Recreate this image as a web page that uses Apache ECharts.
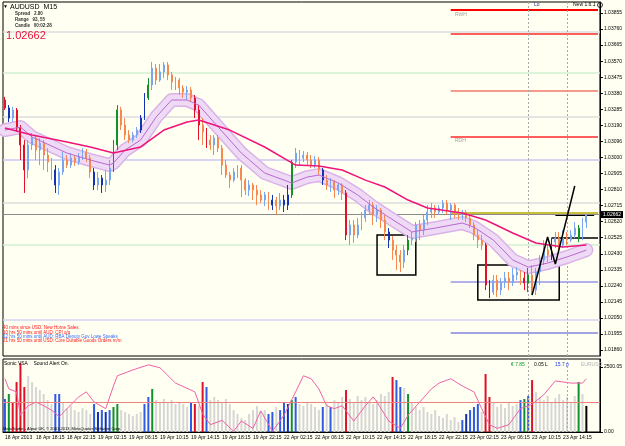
<!DOCTYPE html>
<html>
<head>
<meta charset="utf-8">
<script src="https://cdn.jsdelivr.net/npm/echarts@6/dist/echarts.min.js"></script>
<style>
html,body{margin:0;padding:0;background:#fffff2;}
#chart{width:625px;height:446px;}
</style>
</head>
<body>
<div id="chart"></div>
<script>
// bottom time labels, one every 8 bars (30 min bars)
var xLabels = ['18 Apr 2013','18 Apr 18:15','18 Apr 22:15','19 Apr 02:15','19 Apr 06:15','19 Apr 10:15',
  '19 Apr 14:15','19 Apr 18:15','19 Apr 22:15','22 Apr 02:15','22 Apr 06:15','22 Apr 10:15','22 Apr 14:15',
  '22 Apr 18:15','22 Apr 22:15','23 Apr 02:15','23 Apr 06:15','23 Apr 10:15','23 Apr 14:15'];
var barSlots = 154;

// AUDUSD candles
var opens = [1.03340,1.03293,1.03233,1.03281,1.03174,1.03074,1.02926,1.03074,1.03115,1.03044,
  1.03085,1.03014,1.02973,1.02926,1.02837,1.02914,1.02985,1.02955,1.02997,1.02973,
  1.03003,1.03032,1.02997,1.02914,1.02837,1.02878,1.02837,1.02866,1.02937,1.03074,
  1.03281,1.03192,1.03133,1.03103,1.03133,1.03162,1.03233,1.03352,1.03429,1.03529,
  1.03458,1.03506,1.03547,1.03488,1.03447,1.03458,1.03411,1.03387,1.03399,1.03352,
  1.03281,1.03192,1.03151,1.03103,1.03074,1.03115,1.03056,1.02955,1.02896,1.02866,
  1.02914,1.02937,1.02866,1.02807,1.02837,1.02807,1.02778,1.02748,1.02778,1.02718,
  1.02748,1.02712,1.02748,1.02718,1.02778,1.02973,1.03026,1.02997,1.03014,1.02985,
  1.02955,1.02985,1.02926,1.02866,1.02837,1.02855,1.02807,1.02837,1.02790,1.02541,
  1.02600,1.02541,1.02600,1.02642,1.02689,1.02718,1.02660,1.02689,1.02630,1.02559,
  1.02511,1.02452,1.02422,1.02381,1.02452,1.02511,1.02523,1.02600,1.02570,1.02630,
  1.02677,1.02701,1.02677,1.02701,1.02730,1.02689,1.02718,1.02677,1.02660,1.02677,
  1.02642,1.02600,1.02541,1.02511,1.02482,1.02245,1.02203,1.02274,1.02215,1.02263,
  1.02286,1.02263,1.02304,1.02322,1.02286,1.02257,1.02304,1.02215,1.02322,1.02393,
  1.02452,1.02422,1.02499,1.02523,1.02482,1.02523,1.02511,1.02541,1.02582,1.02523,
  1.02618];
var closes = [1.03293,1.03233,1.03281,1.03174,1.03074,1.02926,1.03074,1.03115,1.03044,1.03085,
  1.03014,1.02973,1.02926,1.02837,1.02914,1.02985,1.02955,1.02997,1.02973,1.03003,
  1.03032,1.02997,1.02914,1.02837,1.02878,1.02837,1.02866,1.02937,1.03074,1.03281,
  1.03192,1.03133,1.03103,1.03133,1.03162,1.03233,1.03352,1.03429,1.03529,1.03458,
  1.03506,1.03547,1.03488,1.03447,1.03458,1.03411,1.03387,1.03399,1.03352,1.03281,
  1.03192,1.03151,1.03103,1.03074,1.03115,1.03056,1.02955,1.02896,1.02866,1.02914,
  1.02937,1.02866,1.02807,1.02837,1.02807,1.02778,1.02748,1.02778,1.02718,1.02748,
  1.02712,1.02748,1.02718,1.02778,1.02973,1.03026,1.02997,1.03014,1.02985,1.02955,
  1.02985,1.02926,1.02866,1.02837,1.02855,1.02807,1.02837,1.02790,1.02541,1.02600,
  1.02541,1.02600,1.02642,1.02689,1.02718,1.02660,1.02689,1.02630,1.02559,1.02511,
  1.02452,1.02422,1.02381,1.02452,1.02511,1.02523,1.02600,1.02570,1.02630,1.02677,
  1.02701,1.02677,1.02701,1.02730,1.02689,1.02718,1.02677,1.02660,1.02677,1.02642,
  1.02600,1.02541,1.02511,1.02482,1.02245,1.02203,1.02274,1.02215,1.02263,1.02286,
  1.02263,1.02304,1.02322,1.02286,1.02257,1.02304,1.02215,1.02322,1.02393,1.02452,
  1.02422,1.02499,1.02523,1.02482,1.02523,1.02511,1.02541,1.02582,1.02523,1.02618,
  1.02662];
var lows = [1.03281,1.03210,1.03210,1.03151,1.02985,1.02790,1.02878,1.03044,1.02985,1.02955,
  1.02926,1.02914,1.02866,1.02790,1.02778,1.02896,1.02937,1.02937,1.02949,1.02955,
  1.02985,1.02973,1.02878,1.02807,1.02807,1.02790,1.02796,1.02837,1.02914,1.03044,
  1.03162,1.03103,1.03085,1.03091,1.03115,1.03145,1.03222,1.03340,1.03399,1.03429,
  1.03447,1.03470,1.03458,1.03399,1.03399,1.03370,1.03352,1.03340,1.03328,1.03233,
  1.03103,1.03074,1.03056,1.03044,1.03014,1.03032,1.02896,1.02878,1.02819,1.02855,
  1.02878,1.02766,1.02778,1.02772,1.02748,1.02718,1.02730,1.02712,1.02689,1.02689,
  1.02660,1.02689,1.02677,1.02689,1.02760,1.02937,1.02955,1.02973,1.02955,1.02937,
  1.02937,1.02896,1.02837,1.02807,1.02796,1.02760,1.02778,1.02748,1.02511,1.02482,
  1.02494,1.02523,1.02570,1.02618,1.02660,1.02600,1.02618,1.02582,1.02511,1.02464,
  1.02393,1.02334,1.02322,1.02346,1.02422,1.02482,1.02499,1.02511,1.02541,1.02600,
  1.02642,1.02642,1.02660,1.02671,1.02660,1.02630,1.02642,1.02630,1.02630,1.02618,
  1.02582,1.02511,1.02464,1.02452,1.02215,1.02168,1.02186,1.02174,1.02186,1.02227,
  1.02215,1.02239,1.02274,1.02245,1.02215,1.02203,1.02186,1.02186,1.02245,1.02363,
  1.02381,1.02393,1.02464,1.02452,1.02464,1.02482,1.02499,1.02523,1.02499,1.02511,
  1.02582];
var highs = [1.03358,1.03310,1.03299,1.03293,1.03192,1.03103,1.03103,1.03145,1.03133,1.03115,
  1.03103,1.03056,1.02997,1.02955,1.02937,1.03032,1.03014,1.03026,1.03014,1.03026,
  1.03056,1.03050,1.03014,1.02937,1.02914,1.02896,1.02926,1.02985,1.03103,1.03310,
  1.03299,1.03233,1.03162,1.03151,1.03180,1.03251,1.03381,1.03470,1.03565,1.03553,
  1.03553,1.03565,1.03565,1.03506,1.03476,1.03470,1.03429,1.03423,1.03417,1.03370,
  1.03310,1.03233,1.03174,1.03133,1.03133,1.03133,1.03074,1.02985,1.02914,1.02937,
  1.02955,1.02955,1.02878,1.02866,1.02849,1.02837,1.02807,1.02796,1.02796,1.02778,
  1.02766,1.02790,1.02778,1.02837,1.02985,1.03056,1.03044,1.03038,1.03032,1.03014,
  1.03008,1.03003,1.02937,1.02896,1.02878,1.02866,1.02849,1.02849,1.02807,1.02630,
  1.02630,1.02642,1.02677,1.02718,1.02748,1.02736,1.02718,1.02701,1.02660,1.02582,
  1.02535,1.02482,1.02452,1.02482,1.02541,1.02559,1.02618,1.02630,1.02660,1.02718,
  1.02730,1.02718,1.02718,1.02748,1.02748,1.02730,1.02730,1.02701,1.02689,1.02689,
  1.02660,1.02618,1.02570,1.02541,1.02494,1.02274,1.02304,1.02304,1.02286,1.02322,
  1.02322,1.02346,1.02351,1.02334,1.02322,1.02346,1.02363,1.02346,1.02422,1.02511,
  1.02482,1.02523,1.02559,1.02559,1.02570,1.02559,1.02570,1.02618,1.02600,1.02642,
  1.02665];
var lastPrice = 1.02662;

// VSA coloured candles
var candleRed = [0,3,4,5,49,50,52,88,124,134];
var candleDark = [1,13,23,25,35,36,69,72,73,82,99,125,141];
var candleGreen = [28,29,37,74,104,135,148];

// moving average and envelope (bar index, price)
var maIdx = [0,7,16,22,28,35,41,47,50,58,67,75,81,87,93,98,104,109,118,124,131,137,144,150];
var maVal = [1.03174,1.03133,1.03091,1.03062,1.03026,1.03062,1.03162,1.03210,1.03222,1.03162,
  1.03062,1.02955,1.02949,1.02926,1.02866,1.02825,1.02748,1.02701,1.02671,1.02630,
  1.02553,1.02494,1.02470,1.02482];
var bandIdx = [0,4,7,16,22,27,28,31,35,39,43,47,50,55,61,67,74,78,81,86,91,95,99,105,111,118,121,126,131,135,140,145,150];
var bandVal = [1.03162,1.03180,1.03121,1.03026,1.02985,1.02955,1.02967,1.03044,1.03103,1.03239,
  1.03340,1.03340,1.03310,1.03180,1.03026,1.02908,1.02849,1.02884,1.02896,1.02849,
  1.02778,1.02707,1.02647,1.02559,1.02582,1.02612,1.02588,1.02511,1.02393,1.02351,
  1.02375,1.02411,1.02452];

// price axis ticks
var priceTicks = [1.03855,1.03760,1.03665,1.03570,1.03475,1.03380,1.03285,1.03190,1.03096,1.03000,
  1.02905,1.02810,1.02715,1.02620,1.02525,1.02430,1.02335,1.02240,1.02145,1.02050,1.01955,1.01860];

// drawn objects
var zigIdx = [136,140,142,147];
var zigVal = [1.02186,1.02529,1.02369,1.02831];
var box1 = [96,1.02541,106,1.02304];
var box2 = [122,1.02363,143,1.02156];
var sideLevels = [1.03873,1.03731,1.03393,1.03121,1.02671,1.02263,1.01961];
var gridLevels = [1.03743,1.03500,1.03239,1.02985,1.02730,1.02482,1.02038];
var blackLevels = [1.02523,1.02657];
var markBars = [135,145];

// Sonic VSA volume
var volumes = [1190,1370,1080,1800,2480,1620,2020,1800,1620,1510,
  1370,1150,1010,1370,1370,1080,860,940,790,720,
  860,790,650,1010,720,790,720,790,900,1010,
  790,720,650,580,650,720,1010,1260,1550,1150,
  1080,1190,1080,1150,1010,1080,1010,900,1080,1010,
  940,1800,1620,1150,1260,1150,1080,1190,1010,790,
  650,500,430,650,790,940,720,790,650,720,
  900,790,1080,1010,1150,1260,1010,940,1080,1010,
  900,790,900,1010,900,1150,1080,1260,1510,1190,
  1080,1300,1150,1260,1080,1010,1150,1370,1300,1440,
  1980,1870,1620,1580,1370,1080,900,790,900,720,
  650,790,580,500,650,430,540,360,430,650,
  790,900,1010,720,2090,1260,1080,900,1010,860,
  1080,940,1010,1150,1190,1300,1870,1440,1260,1150,
  1300,1080,1220,1370,1150,1260,1080,1300,1800,1370,
  940];
var volBlue = [0,13,14,23,25,27,36,37,48,52,68,69,71,72,75,82,84,101,102,118,120,121,122,133,135];
var volDark = [24,26,73,119];
var volRed = [2,3,4,5,49,51,88,100,124,125,136];
var volGreen = [1,28,29,38,74,104,134,148];
var volBlack = [150];

// oscillator line
var oscIdx = [0,1,3,4,6,8,10,12,14,16,19,21,23,26,28,29,33,37,40,44,49,51,53,56,59,61,64,66,69,72,
  75,77,79,81,83,85,87,90,93,95,96,99,102,104,107,110,112,115,118,121,123,125,127,130,133,136,139,142,146,149,150];
var oscVal = [73,59,55,23,36,41,36,30,21,32,48,55,41,32,63,77,85,92,88,67,55,25,10,16,1,15,5,29,1,23,
  55,77,73,59,36,32,36,15,36,48,41,15,5,23,41,59,67,73,63,55,32,10,5,10,32,38,51,70,67,67,73];
var oscLevel = 41;

var newsLines = ['40 mins since USD: New Home Sales','10 hrs 50 mins until AUD: CPI q/q',
  '12 hrs 50 mins until AUD: RBA Deputy Gov Lowe Speaks','21 hrs 50 mins until USD: Core Durable Goods Orders m/m'];
var newsColors = ['#ff1a1a','#ff1a1a','#3a6cff','#ff1a1a'];

var FONT = 'Liberation Sans';
var BG = '#fffff2';

var cats = [];
for (var i = 0; i < barSlots; i++) {
    cats.push(i % 8 === 0 && xLabels[i / 8] ? xLabels[i / 8] : '');
}

function pairs(idx, val) {
    var out = [];
    for (var k = 0; k < idx.length; k++) out.push([idx[k], val[k]]);
    return out;
}

var candleData = [];
for (var i = 0; i < opens.length; i++) {
    var item = {value: [opens[i], closes[i], lows[i], highs[i]]};
    var c = null;
    if (candleRed.indexOf(i) >= 0) c = '#e4102a';
    else if (candleDark.indexOf(i) >= 0) c = '#1432b4';
    else if (candleGreen.indexOf(i) >= 0) c = '#12902a';
    if (c) item.itemStyle = {color: c, color0: c, borderColor: c, borderColor0: c};
    candleData.push(item);
}

var volData = [];
for (var i = 0; i < volumes.length; i++) {
    var vc = '#d6d6d6';
    if (volBlue.indexOf(i) >= 0) vc = '#2e5ae6';
    else if (volDark.indexOf(i) >= 0) vc = '#1030b0';
    else if (volRed.indexOf(i) >= 0) vc = '#e0102a';
    else if (volGreen.indexOf(i) >= 0) vc = '#109030';
    else if (volBlack.indexOf(i) >= 0) vc = '#000';
    volData.push({value: volumes[i], itemStyle: {color: vc}});
}

//水平线
var sideColors = ['#ff0000','#ff2a2a','#f07a6a','#ff2a2a','#b8a800','#9898e8','#8484dc'];
var sideWidths = [2,1.5,1.5,1.5,1.5,1.5,1.5];
var gridColors = ['#dddddd','#d2f0d2','#dddddd','#c8c8f4','#dddddd','#d2f0d2','#d4d4f4'];
var levelLines = [];
gridLevels.forEach(function (v, k) {
    levelLines.push({yAxis: v, lineStyle: {color: gridColors[k], width: 1.5, type: 'solid'}});
});
sideLevels.forEach(function (v, k) {
    levelLines.push([{coord: [115, v], lineStyle: {color: sideColors[k], width: sideWidths[k], type: 'solid'}}, {coord: [153, v]}]);
});
levelLines.push({yAxis: lastPrice, lineStyle: {color: '#8a8a8a', width: 1, type: 'solid'},
    label: {show: true, position: 'end', formatter: lastPrice.toFixed(5), color: '#fff', backgroundColor: '#000',
        fontSize: 5, fontFamily: FONT, padding: [1, 2], distance: 1}});
levelLines.push([{coord: [141, blackLevels[0]], lineStyle: {color: '#000', width: 1.5, type: 'solid'}}, {coord: [153, blackLevels[0]]}]);
levelLines.push([{coord: [142, blackLevels[1]], lineStyle: {color: '#000', width: 1, type: 'solid'}}, {coord: [152, blackLevels[1]]}]);
markBars.forEach(function (b) {
    levelLines.push({xAxis: b, lineStyle: {color: '#a8a8a8', width: 1, type: [2, 2]}});
});

var texts = [
    {x: 3, y: 7, t: '\u25BC', f: '5px ' + FONT, c: '#000'},
    {x: 10, y: 7, t: 'AUDUSD  M15', f: '7px ' + FONT, c: '#000'},
    {x: 15, y: 14, t: 'Spread   2.80', f: 'bold 4.5px ' + FONT, c: '#333'},
    {x: 15, y: 20, t: 'Range   93, 55', f: 'bold 4.5px ' + FONT, c: '#333'},
    {x: 15, y: 26, t: 'Candle   00:02:28', f: 'bold 4.5px ' + FONT, c: '#333'},
    {x: 6, y: 36, t: '1.02662', f: '11px ' + FONT, c: '#e8103c'},
    {x: 455, y: 15, t: 'RWH', f: '5px ' + FONT, c: '#a0a0a0'},
    {x: 455, y: 141, t: 'RDH', f: '5px ' + FONT, c: '#a0a0a0'},
    {x: 534, y: 5, t: 'Lo', f: '5px ' + FONT, c: '#303088'},
    {x: 573, y: 5, t: 'New 1.6.1', f: '5px ' + FONT, c: '#000'},
    {x: 4, y: 364, t: 'Sonic VSA    Sound Alert On.', f: '5px ' + FONT, c: '#000'},
    {x: 511, y: 365, t: '\u20AC 7.85', f: '5px ' + FONT, c: '#10a030'},
    {x: 534, y: 365, t: '0.05 L', f: '5px ' + FONT, c: '#000'},
    {x: 555, y: 365, t: '15.7 p', f: '5px ' + FONT, c: '#2040e0'},
    {x: 581, y: 365, t: 'EURUSD', f: '5px ' + FONT, c: '#b4b4b4'},
    {x: 3, y: 429, t: 'MetaTrader - Alpari UK, \u00A9 2001-2013, MetaQuotes Software Corp.', f: '4px ' + FONT, c: '#000'}
];
newsLines.forEach(function (s, k) {
    texts.push({x: 3, y: 328 + k * 4.4, t: s, f: '4.5px ' + FONT, c: newsColors[k]});
});
var graphics = texts.map(function (o) {
    return {type: 'text', x: o.x, y: o.y, z: 100,
        style: {text: o.t, fill: o.c, font: o.f, verticalAlign: 'middle', align: 'left'}};
});
graphics.push({type: 'circle', shape: {cx: 600, cy: 5, r: 2.5}, style: {fill: 'none', stroke: '#000', lineWidth: 0.8}, z: 100});

var chart = echarts.init(document.getElementById('chart'), null, {renderer: 'canvas'});
chart.setOption({
    animation: false,
    backgroundColor: BG,
    textStyle: {fontFamily: FONT},
    graphic: graphics,
    grid: [
        {left: 3, right: 22, top: 2, height: 354, show: true, borderColor: '#000', borderWidth: 1, backgroundColor: BG},
        {left: 3, right: 22, top: 359, height: 73, show: true, borderColor: '#000', borderWidth: 1, backgroundColor: BG}
    ],
    xAxis: [
        {type: 'category', gridIndex: 0, data: cats, boundaryGap: true,
            axisLine: {show: false}, axisTick: {show: false}, axisLabel: {show: false}, splitLine: {show: false}},
        {type: 'category', gridIndex: 1, data: cats, boundaryGap: true,
            axisLine: {lineStyle: {color: '#000'}},
            axisTick: {alignWithLabel: true, length: 3, lineStyle: {color: '#000'},
                interval: function (i, v) { return v !== ''; }},
            axisLabel: {interval: function (i, v) { return v !== ''; }, align: 'left', fontSize: 5, color: '#000', margin: 3}}
    ],
    yAxis: [
        {type: 'value', gridIndex: 0, position: 'right', min: 1.01825, max: 1.03920,
            axisLine: {show: true, lineStyle: {color: '#000'}},
            axisTick: {show: true, length: 3, customValues: priceTicks, lineStyle: {color: '#000'}},
            axisLabel: {customValues: priceTicks, formatter: function (v) { return v.toFixed(5); },
                fontSize: 5, color: '#000', margin: 4},
            splitLine: {show: false}},
        {type: 'value', gridIndex: 1, position: 'right', min: 0, max: 2630,
            axisLine: {show: true, lineStyle: {color: '#000'}},
            axisTick: {show: true, length: 3, customValues: [2340, 0], lineStyle: {color: '#000'}},
            axisLabel: {customValues: [2340, 0], formatter: function (v) { return v ? '2500.05' : '0.00'; },
                fontSize: 5, color: '#000', margin: 4},
            splitLine: {show: false}},
        {type: 'value', gridIndex: 1, min: 0, max: 100, show: false}
    ],
    series: [
        {type: 'line', name: 'bandEdge', data: pairs(bandIdx, bandVal), showSymbol: false, symbol: 'none', z: 1,
            lineStyle: {color: '#dab2e8', width: 14, join: 'round', cap: 'round'}},
        {type: 'line', name: 'bandFill', data: pairs(bandIdx, bandVal), showSymbol: false, symbol: 'none', z: 1,
            lineStyle: {color: '#efdaf5', width: 11, join: 'round', cap: 'round'}},
        {type: 'candlestick', name: 'AUDUSD', data: candleData, barWidth: 1.4, z: 2,
            itemStyle: {color: '#79a6f2', color0: '#f6894f', borderColor: '#79a6f2', borderColor0: '#f6894f', borderWidth: 1},
            markArea: {silent: true, itemStyle: {color: 'rgba(0,0,0,0)', borderColor: '#000', borderWidth: 1.5},
                data: [
                    [{coord: [box1[0], box1[1]]}, {coord: [box1[2], box1[3]]}],
                    [{coord: [box2[0], box2[1]]}, {coord: [box2[2], box2[3]]}]
                ]}},
        {type: 'line', name: 'bandMid', data: pairs(bandIdx, bandVal), showSymbol: false, symbol: 'none', z: 3,
            lineStyle: {color: '#b868d0', width: 1}},
        {type: 'line', name: 'MA', data: pairs(maIdx, maVal), showSymbol: false, symbol: 'none', z: 3,
            lineStyle: {color: '#f0147a', width: 1.5},
            markLine: {silent: true, precision: 5, symbol: ['none', 'none'], label: {show: false}, data: levelLines, z: 0}},
        {type: 'line', name: 'zigzag', data: pairs(zigIdx, zigVal), showSymbol: false, symbol: 'none', z: 4,
            lineStyle: {color: '#000', width: 1.5}},
        {type: 'bar', name: 'VSA', xAxisIndex: 1, yAxisIndex: 1, data: volData, barWidth: 2,
            markLine: {silent: true, symbol: ['none', 'none'], label: {show: false},
                data: markBars.map(function (b) { return {xAxis: b, lineStyle: {color: '#a8a8a8', width: 1, type: [2, 2]}}; })}},
        {type: 'line', name: 'osc', xAxisIndex: 1, yAxisIndex: 2, data: pairs(oscIdx, oscVal), showSymbol: false, symbol: 'none', z: 3,
            lineStyle: {color: '#f060a8', width: 1},
            markLine: {silent: true, symbol: ['none', 'none'], label: {show: false},
                data: [{yAxis: oscLevel, lineStyle: {color: '#f08080', width: 1, type: 'solid'}}]}}
    ]
});
</script>
</body>
</html>
